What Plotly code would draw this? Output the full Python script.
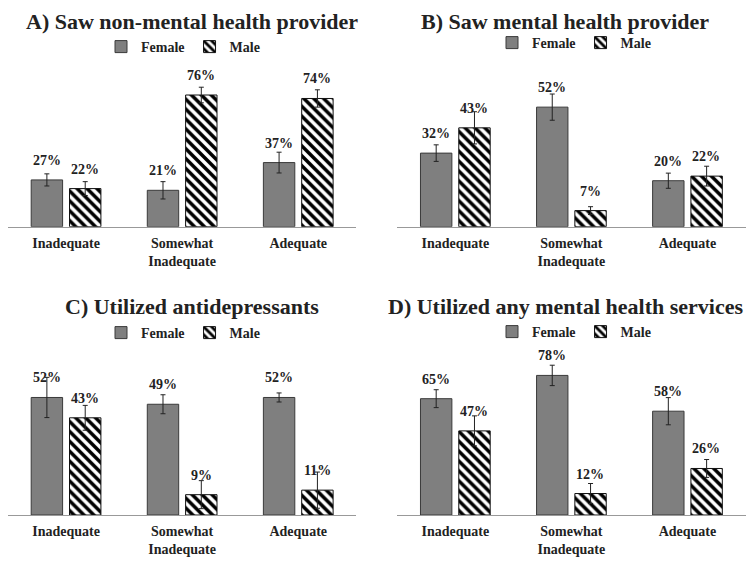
import plotly.graph_objects as go

# The page body adds an 8 px margin, so the figure is drawn 8 px smaller
OFF = 8
W, H = 754 - OFF, 562 - OFF

categories = ["Inadequate", "Somewhat<br>Inadequate", "Adequate"]
series_names = ["Female", "Male"]

titles = [
    "A) Saw non-mental health provider",
    "B) Saw mental health provider",
    "C) Utilized antidepressants",
    "D) Utilized any mental health services",
]

female_vals = [
    [27, 21, 37],
    [32, 52, 20],
    [52, 49, 52],
    [65, 78, 58],
]
male_vals = [
    [22, 76, 74],
    [43, 7, 22],
    [43, 9, 11],
    [47, 12, 26],
]
female_err = [
    [3.5, 5.0, 6.0],
    [3.6, 5.7, 3.3],
    [8.9, 4.2, 2.0],
    [5.0, 5.7, 7.6],
]
male_err = [
    [4.0, 4.5, 5.0],
    [7.0, 1.7, 4.3],
    [5.5, 6.2, 8.0],
    [8.4, 5.6, 5.0],
]

# panel geometry in page pixels: (x0, x1, baseline_y, top_y, ymax)
panels = [
    (8, 356.3, 226.7, 60, 96.2),
    (397.3, 745.5, 226.7, 60, 72.5),
    (8, 356.3, 515, 350, 73.0),
    (397.3, 745.5, 515, 350, 92.2),
]
title_pos = [(192, 21), (565, 21), (192, 306), (565, 306)]
legend_pos = [(183, 47), (574, 43), (183, 333), (574, 332)]

FONT = "Liberation Serif, Times New Roman, serif"
GRAY = "#7f7f7f"


def px(x):
    return (x - OFF) / W


def py(y):
    return 1 - (y - OFF) / H


fig = go.Figure()
annotations = []
layout_axes = {}

for i in range(4):
    xa = "x" if i == 0 else f"x{i+1}"
    ya = "y" if i == 0 else f"y{i+1}"
    lg = "legend" if i == 0 else f"legend{i+1}"
    fig.add_trace(go.Bar(
        x=categories, y=female_vals[i], name=series_names[0],
        xaxis=xa, yaxis=ya, legend=lg, offsetgroup="f",
        marker=dict(color=GRAY, line=dict(color="#3a3a3a", width=1)),
        error_y=dict(type="data", array=female_err[i], color="#222222", thickness=1, width=2.5),
    ))
    fig.add_trace(go.Bar(
        x=categories, y=male_vals[i], name=series_names[1],
        xaxis=xa, yaxis=ya, legend=lg, offsetgroup="m",
        marker=dict(color="white", line=dict(color="#111111", width=1),
                    pattern=dict(shape="\\", fgcolor="#000000", bgcolor="white",
                                 size=7, solidity=0.5, fgopacity=1)),
        error_y=dict(type="data", array=male_err[i], color="#222222", thickness=1, width=2.5),
    ))
    x0, x1, yb, yt, ymax = panels[i]
    key = "" if i == 0 else str(i + 1)
    layout_axes[f"xaxis{key}"] = dict(
        domain=[px(x0), px(x1)], anchor=ya, type="category", range=[-0.5, 2.5],
        showline=True, linecolor="#999999", linewidth=1, ticks="", showgrid=False,
        ticklabelstandoff=3,
        tickfont=dict(family=FONT, size=14, color="#222222", weight="bold"),
    )
    layout_axes[f"yaxis{key}"] = dict(
        domain=[py(yb), py(yt)], anchor=xa, range=[0, ymax],
        visible=False, showgrid=False,
    )
    lx, ly = legend_pos[i]
    layout_axes[lg] = dict(
        x=px(lx), y=py(ly), xanchor="center", yanchor="middle",
        orientation="h", bgcolor="rgba(0,0,0,0)",
        font=dict(family=FONT, size=14, color="#222222", weight="bold"),
        itemwidth=30, tracegroupgap=0,
    )
    tx, ty = title_pos[i]
    annotations.append(dict(
        text=f"<b>{titles[i]}</b>", x=px(tx), y=py(ty), xref="paper", yref="paper",
        xanchor="center", yanchor="middle", showarrow=False,
        font=dict(family=FONT, size=22, color="#222222"),
    ))
    for vals, shift in ((female_vals[i], -19), (male_vals[i], 19)):
        for c, v in zip(categories, vals):
            annotations.append(dict(
                text=f"<b>{v}%</b>", x=c, y=v, xref=xa, yref=ya,
                xanchor="center", yanchor="bottom", showarrow=False,
                xshift=shift, yshift=10,
                font=dict(family=FONT, size=14, color="#222222"),
            ))

fig.update_layout(
    width=W, height=H, margin=dict(l=0, r=0, t=0, b=0),
    paper_bgcolor="white", plot_bgcolor="white",
    barmode="group", bargap=0.34, bargroupgap=0.18,
    annotations=annotations, showlegend=True,
    **layout_axes,
)

fig.write_html("out.html")
